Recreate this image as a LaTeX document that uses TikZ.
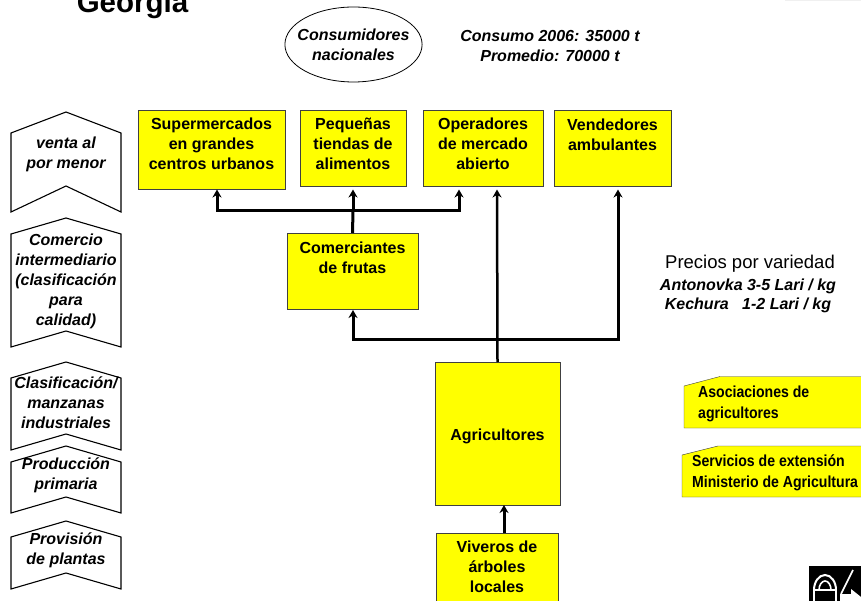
\documentclass[tikz,border=0pt]{standalone}
\usepackage{fontspec}
\setmainfont{Liberation Sans}
\newfontfamily\narrowfont[FakeStretch=0.88]{Liberation Sans}
\usetikzlibrary{arrows.meta,shapes.geometric}
\definecolor{boxyellow}{RGB}{255,255,0}
\tikzset{
	yellowbox/.style={draw=black!75, fill=boxyellow, inner sep=0pt, font=\fontsize{16}{20}\selectfont\bfseries, align=center, anchor=north},
	stagetext/.style={inner sep=0pt, font=\fontsize{16}{20}\selectfont\bfseries\itshape, align=center},
	supporttext/.style={inner sep=0pt, font=\narrowfont\fontsize{16}{21}\selectfont\bfseries, align=left, anchor=west},
	flowline/.style={line width=3pt},
	flowarrow/.style={line width=3pt, -{Stealth[length=8pt, width=9pt]}},
	stagebox/.style={draw=black, line width=1.1pt, fill=white},
}
\begin{document}
\begin{tikzpicture}[x=1pt,y=-1pt]
			\useasboundingbox (0,0) rectangle (861,601);
			\clip (0,0) rectangle (861,601);
			\node[font=\fontsize{29.5}{30}\selectfont\bfseries, anchor=base, inner sep=0pt] (title) at (132.5,12.5) {Georgia};
			\fill[black!6] (785,0) rectangle (861,1.5);

			% consumers
			\node[draw, ellipse, stagetext, line width=0.8pt, inner xsep=-7.5pt, inner ysep=0pt, minimum height=75pt] (consumidores) at (353.5,44.5) {Consumidores\\nacionales};
			\node[stagetext] (consumo) at (550,46) {Consumo 2006: 35000 t\\Promedio: 70000 t};

			% retail row
			\node[yellowbox, minimum width=147pt, text height=59pt, text depth=20pt] (super) at (211.5,110) {Supermercados\\en grandes\\centros urbanos};
			\node[yellowbox, minimum width=106pt, text height=59pt, text depth=17pt] (tiendas) at (353,110) {Pequeñas\\tiendas de\\alimentos};
			\node[yellowbox, minimum width=119.5pt, text height=59pt, text depth=17pt] (operadores) at (483,110) {Operadores\\de mercado\\abierto};
			\node[yellowbox, minimum width=117pt, text height=40pt, text depth=36pt] (vendedores) at (612.5,110) {Vendedores\\ambulantes};

			\node[yellowbox, minimum width=131pt, text height=40pt, text depth=36pt] (comerciantes) at (352.5,233) {Comerciantes\\de frutas};
			\node[yellowbox, minimum width=125pt, text height=78pt, text depth=65pt] (agricultores) at (497.5,362) {Agricultores};
			\node[yellowbox, minimum width=122pt, text height=59pt, text depth=20pt] (viveros) at (497,533) {Viveros de\\árboles\\locales};

			% arrows
			\coordinate (junctiona) at (353,211);
			\coordinate (junctionb) at (497,339);
			\coordinate (supertip) at (217,189.5);
			\coordinate (tiendastip) at (353,189.5);
			\coordinate (operadorestip) at (459,189.5);
			\coordinate (operadoresmain) at (497,189.5);
			\coordinate (vendedorestip) at (618,189.5);
			\coordinate (comerciantestip) at (353,310);
			\coordinate (agricultorestip) at (504,505);
			\coordinate (viverosfoot) at (504,533);
			\draw[flowline] (comerciantes.north) -- (junctiona);
			\draw[flowarrow] (junctiona) -- (tiendastip);
			\draw[flowarrow] (junctiona) -| (supertip);
			\draw[flowarrow] (junctiona) -| (operadorestip);
			\draw[line width=2.5pt, -{Stealth[length=8pt, width=9pt]}] (agricultores.north) -- (operadoresmain);
			\draw[flowarrow] (junctionb) -| (comerciantestip);
			\draw[flowarrow] (junctionb) -| (vendedorestip);
			\draw[flowarrow] (viverosfoot) -- (agricultorestip);

			% stages
			\draw[stagebox] (11,133) -- (66,112) -- (121,133) -- (121,212) -- (66,186) -- (11,212) -- cycle;
			\node[stagetext] (venta) at (66,154) {venta al\\por menor};
			\draw[stagebox] (11,234) -- (66,218) -- (121,234) -- (121,347) -- (66,331) -- (11,347) -- cycle;
			\node[stagetext] (comercio) at (66,281) {Comercio\\intermediario\\(clasificación\\para\\calidad)};
			\draw[stagebox] (11,378) -- (66,362) -- (121,378) -- (121,450) -- (66,434) -- (11,450) -- cycle;
			\node[stagetext] (clasificacion) at (66,403) {Clasificación/\\manzanas\\industriales};
			\draw[stagebox] (11,462) -- (66,446) -- (121,462) -- (121,513) -- (66,497) -- (11,513) -- cycle;
			\node[stagetext] (produccion) at (66,475) {Producción\\primaria};
			\draw[stagebox] (11,537) -- (66,521) -- (121,537) -- (121,589) -- (66,573) -- (11,589) -- cycle;
			\node[stagetext] (provision) at (66,550) {Provisión\\de plantas};

			% prices
			\node[font=\fontsize{18.5}{20}\selectfont] (precios) at (750,264) {Precios por variedad};
			\node[stagetext, font=\fontsize{16}{19}\selectfont\bfseries\itshape] (variedades) at (748,296) {Antonovka 3-5 Lari / kg\\Kechura\ \ \ 1-2 Lari / kg};

			% support boxes
			\draw[draw=black!75, fill=boxyellow] (684,386) -- (720,376.5) -- (862,376.5) -- (862,428) -- (684,428) -- cycle;
			\node[supporttext] (asociaciones) at (698,404) {Asociaciones de\\agricultores};
			\draw[draw=black!75, fill=boxyellow] (682,455) -- (718,446) -- (862,446) -- (862,497) -- (682,497) -- cycle;
			\node[supporttext] (servicios) at (692,473) {Servicios de extensión\\Ministerio de Agricultura};

			% lock icon
			\fill[black] (809,566) rectangle (861,601);
			\draw[white, line width=2pt] (814,590) arc (180:360:11 and 15);
			\draw[white, line width=1.6pt] (819,590) arc (180:360:6 and 9);
			\draw[white, line width=2.5pt, fill=black] (814,590) rectangle (836,604);
			\draw[white, line width=1.6pt] (853,570) -- (841,594);
			\fill[white] (840,594) -- (851,594) -- (851,589) -- (861,597) -- (861,601) -- (840,601) -- cycle;
		\end{tikzpicture}
\end{document}
